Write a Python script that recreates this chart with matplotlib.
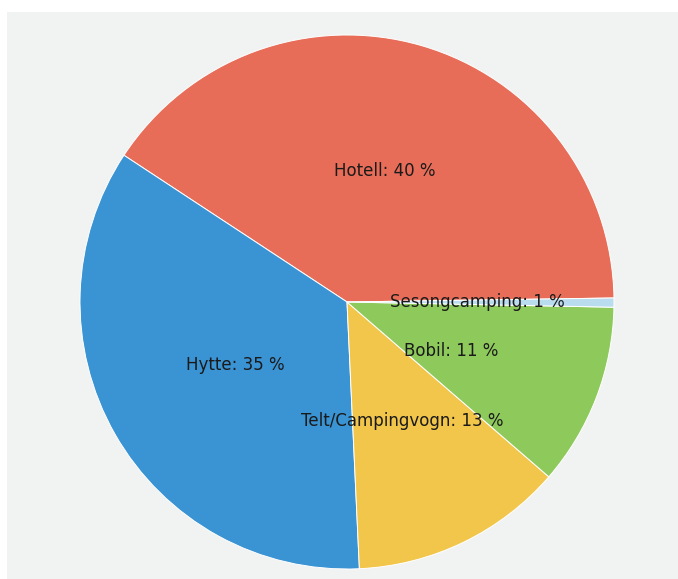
import numpy as np
import matplotlib
matplotlib.use('Agg')
import matplotlib.pyplot as plt
from matplotlib.patches import Rectangle

# data
categories = ['Hotell', 'Hytte', 'Telt/Campingvogn', 'Bobil', 'Sesongcamping']
shares = [40.5, 35.0, 12.9, 11.05, 0.55]
share_labels = ['40 %', '35 %', '13 %', '11 %', '1 %']
colors = ['#e86d58', '#3a93d3', '#f2c64a', '#8ec95c', '#b9dcee']

# label placement (fraction of radius, angle shift in degrees)
label_r = [0.51, 0.48, 0.49, 0.43, 0.49]
label_shift = [0, 0, -1, -4, 0]

W, H = 678, 579
cx, cy, R = 347, 302, 267

fig = plt.figure(figsize=(W / 100, H / 100), dpi=100)
fig.patch.set_facecolor('white')
fig.add_artist(Rectangle((7 / W, 0), 1 - 7 / W, 1 - 12 / H,
                         transform=fig.transFigure, facecolor='#f1f3f3',
                         edgecolor='none', zorder=0))

ax = fig.add_axes([0, 0, 1, 1])
ax.set_facecolor('none')

wedges, _ = ax.pie(shares, colors=colors, startangle=0.86, counterclock=True,
                   radius=1, wedgeprops=dict(edgecolor='white', linewidth=0.7))

# pie() resets the limits, so set them afterwards
ax.set_xlim(-cx / R, (W - cx) / R)
ax.set_ylim(-(H - cy) / R, cy / R)
ax.axis('off')

for w, cat, lab, r, sh in zip(wedges, categories, share_labels, label_r, label_shift):
    mid = np.deg2rad((w.theta1 + w.theta2) / 2 + sh)
    ax.text(r * np.cos(mid), r * np.sin(mid), f'{cat}: {lab}',
            ha='center', va='center', fontsize=12, color='#1a1a1a')

fig.savefig('out.png', dpi=100)
